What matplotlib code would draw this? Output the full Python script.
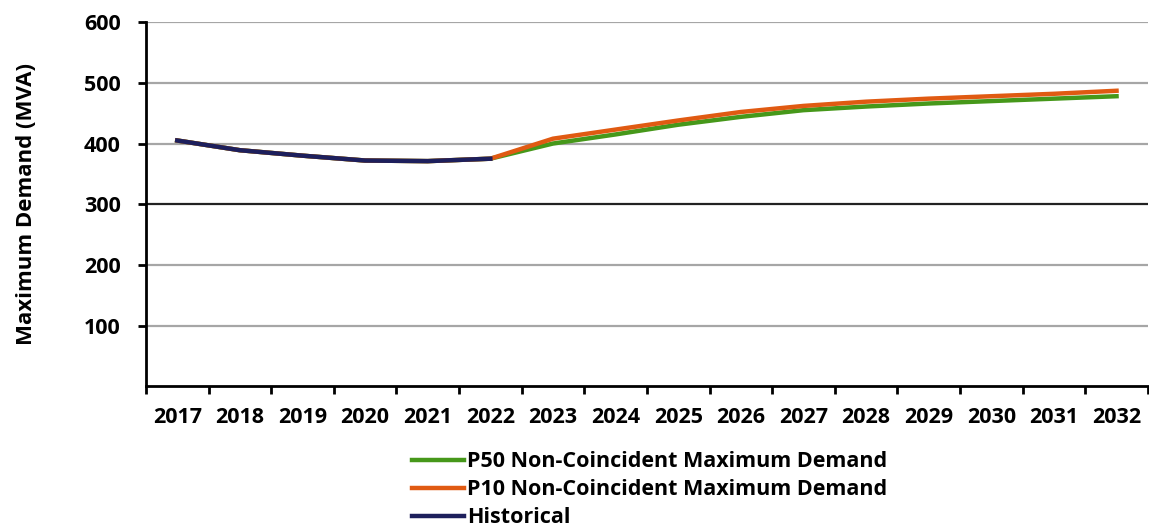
import matplotlib.pyplot as plt

years = [str(y) for y in range(2017, 2033)]

# historical demand 2017-2022, forecasts continue from the 2022 value
historical = [405, 389, 380, 372, 371, 375]
p50 = historical + [400, 415, 431, 444, 455, 461, 466, 470, 474, 478]
p10 = historical + [408, 423, 438, 452, 462, 469, 474, 478, 482, 487]

green = '#46981a'
orange = '#e05a12'
navy = '#1d1f5c'

plt.rcParams['font.family'] = ['Open Sans', 'DejaVu Sans']
plt.rcParams['font.weight'] = 'bold'

fig = plt.figure(figsize=(11.49, 5.29), dpi=100)
ax = fig.add_axes([0.127, 0.270, 0.872, 0.688])

x = list(range(len(years)))
ax.plot(x, p50, color=green, lw=3.2, label='P50 Non-Coincident Maximum Demand', zorder=3)
ax.plot(x, p10, color=orange, lw=3.2, label='P10 Non-Coincident Maximum Demand', zorder=4)
ax.plot(x[:len(historical)], historical, color=navy, lw=3.2, label='Historical', zorder=5)

ax.set_xlim(-0.5, len(years) - 0.5)
ax.set_ylim(0, 600)

# gridlines
for v in range(100, 601, 100):
    c = '#222222' if v == 300 else '#a6a6a6'
    ax.axhline(v, color=c, lw=1.6, zorder=1)

ax.set_yticks(range(100, 601, 100))
ax.set_xticks(x)
ax.set_xticklabels(years)
ax.set_xticks([i - 0.5 for i in range(len(years) + 1)], minor=True)
ax.tick_params(axis='x', which='major', length=0, pad=15, labelsize=15.5)
ax.tick_params(axis='x', which='minor', length=6, width=2, direction='out')
ax.tick_params(axis='y', length=6, width=2, direction='out', pad=12, labelsize=15.5)

for s in ['top', 'right']:
    ax.spines[s].set_visible(False)
for s in ['left', 'bottom']:
    ax.spines[s].set_linewidth(2)

ax.set_ylabel('Maximum Demand (MVA)', fontsize=16, fontweight='bold', labelpad=34)

fig.legend(loc='upper left', bbox_to_anchor=(0.359, 0.147), frameon=False, fontsize=15.5,
           handlelength=2.4, handletextpad=0.15, labelspacing=0.33, borderpad=0,
           borderaxespad=0)

fig.savefig('out.png', dpi=100)
